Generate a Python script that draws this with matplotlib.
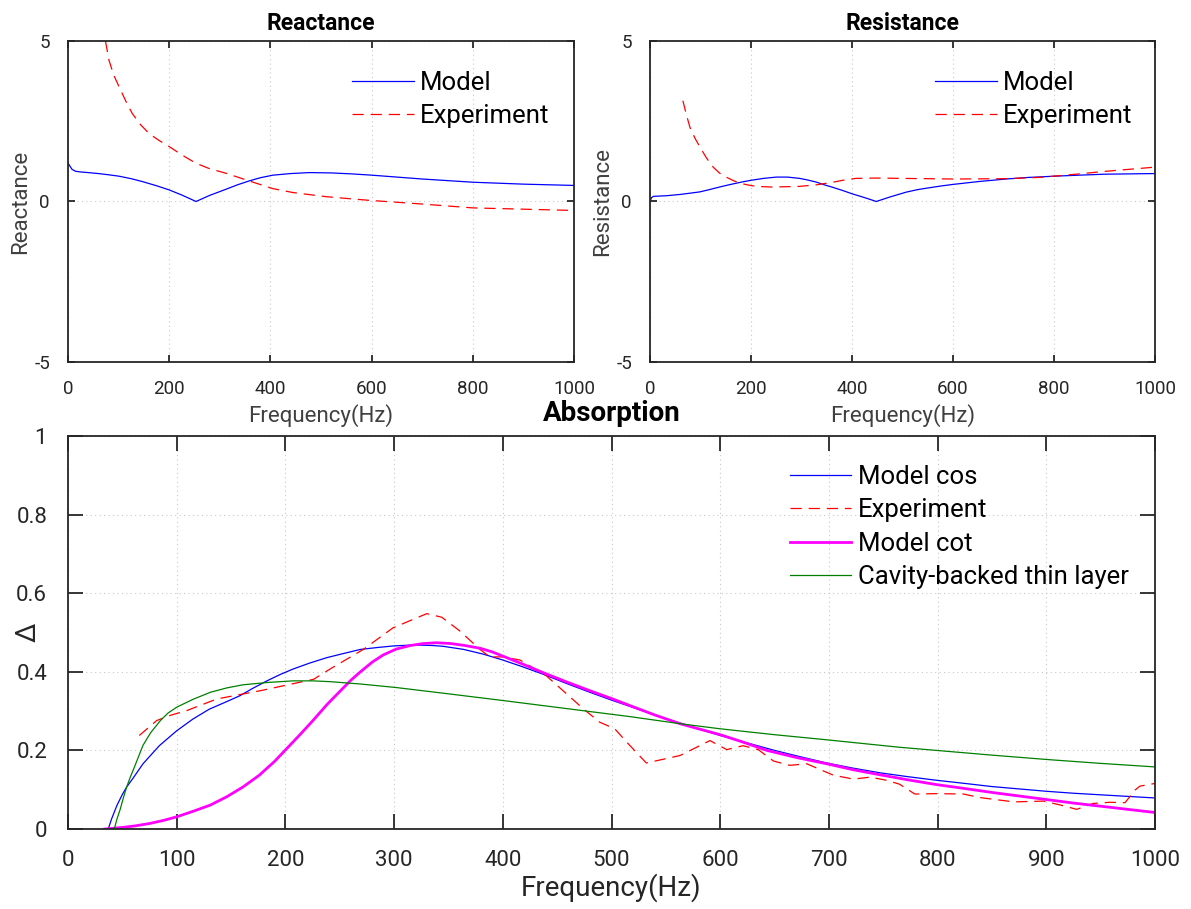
import numpy as np
import matplotlib
matplotlib.use("Agg")
import matplotlib.pyplot as plt

plt.rcParams['font.family'] = ['Roboto', 'DejaVu Sans']
plt.rcParams['axes.unicode_minus'] = False

# ---- Reactance ----
react_f_model = [0, 3, 8, 15, 25, 40, 60, 81, 100, 125, 147, 175, 200, 225, 253, 280, 312, 335, 358, 380,
                 405, 440, 477, 520, 560, 600, 650, 700, 750, 800, 850, 900, 950, 1000]
react_model = [1.2, 1.12, 1.0, 0.94, 0.92, 0.9, 0.87, 0.83, 0.79, 0.71, 0.62, 0.49, 0.36, 0.2, 0.0, 0.19, 0.38, 0.52, 0.64, 0.74,
               0.82, 0.87, 0.9, 0.89, 0.86, 0.82, 0.76, 0.7, 0.65, 0.6, 0.57, 0.54, 0.52, 0.5]
react_f_exp = [74, 81, 90, 101, 115, 127, 143, 160, 180, 200, 225, 253, 280, 312, 358, 405, 444, 474, 510, 576, 600, 655, 700, 800, 900, 1000]
react_exp = [5.0, 4.4, 3.95, 3.57, 3.1, 2.74, 2.4, 2.12, 1.9, 1.71, 1.45, 1.19, 1.02, 0.88, 0.64, 0.40, 0.28, 0.22, 0.15, 0.06, 0.03, -0.03, -0.08, -0.2, -0.24, -0.28]

# ---- Resistance ----
resist_f_model = [0, 3, 7, 20, 33, 60, 80, 99, 115, 130, 148, 165, 183, 200, 225, 250, 272, 296, 312, 330, 345, 362,
                  380, 400, 425, 448, 475, 507, 530, 550, 575, 599, 650, 705, 750, 804, 850, 900, 950, 1000]
resist_model = [0.0, 0.12, 0.16, 0.17, 0.18, 0.22, 0.26, 0.3, 0.36, 0.42, 0.49, 0.55, 0.61, 0.66, 0.72, 0.76, 0.76, 0.72, 0.67, 0.6, 0.52, 0.44,
                0.35, 0.24, 0.12, 0.0, 0.14, 0.29, 0.37, 0.42, 0.48, 0.53, 0.62, 0.7, 0.75, 0.79, 0.82, 0.85, 0.86, 0.87]
resist_f_exp = [65, 72, 79, 89, 99, 112, 125, 138, 152, 165, 178, 195, 211, 240, 296, 330, 362, 385, 408, 450, 494, 550, 600, 705, 771, 837, 902, 1000]
resist_exp = [3.14, 2.7, 2.31, 1.97, 1.69, 1.35, 1.07, 0.88, 0.75, 0.65, 0.57, 0.51, 0.47, 0.45, 0.47, 0.52, 0.6, 0.67, 0.72, 0.73, 0.72, 0.71, 0.7, 0.71, 0.75, 0.84, 0.94, 1.07]

# ---- Absorption ----
cos_f = [37, 40, 45, 50, 54, 60, 69, 84, 100, 115, 130, 145, 158, 170, 183, 195, 207, 222, 238, 254, 269, 285, 300, 315,
         324, 335, 345, 364, 382, 400, 418, 437, 458, 480, 500, 517, 540, 560, 580, 600, 625, 650, 675, 698, 722, 747,
         773, 799, 825, 850, 875, 900, 925, 950, 975, 1000]
cos_abs = [0, 0.025, 0.06, 0.088, 0.107, 0.13, 0.166, 0.212, 0.25, 0.28, 0.305, 0.323, 0.339, 0.358, 0.377, 0.393, 0.407, 0.422, 0.436, 0.447, 0.457, 0.462, 0.466, 0.468,
           0.468, 0.467, 0.465, 0.457, 0.445, 0.43, 0.413, 0.394, 0.371, 0.348, 0.328, 0.312, 0.29, 0.272, 0.255, 0.238, 0.219, 0.2, 0.183, 0.168, 0.155, 0.143,
           0.133, 0.124, 0.116, 0.108, 0.102, 0.096, 0.091, 0.087, 0.083, 0.079]

cot_f = [34, 50, 62, 75, 88, 100, 115, 131, 146, 161, 176, 190, 201, 212, 225, 238, 250, 260, 269, 280, 290, 302, 315, 327,
         339, 352, 365, 379, 390, 400, 418, 437, 458, 480, 500, 517, 540, 563, 580, 600, 620, 643, 670, 698, 722, 747, 773,
         799, 825, 850, 875, 900, 925, 950, 975, 1000]
cot_abs = [0, 0.004, 0.008, 0.014, 0.022, 0.031, 0.045, 0.061, 0.082, 0.107, 0.137, 0.172, 0.204, 0.236, 0.275, 0.316, 0.35, 0.378, 0.40, 0.425, 0.443, 0.458, 0.467, 0.472,
           0.474, 0.472, 0.467, 0.46, 0.451, 0.44, 0.42, 0.398, 0.375, 0.352, 0.332, 0.314, 0.29, 0.268, 0.255, 0.24, 0.222, 0.2, 0.182, 0.166, 0.151, 0.138, 0.125,
           0.113, 0.103, 0.093, 0.084, 0.075, 0.066, 0.058, 0.05, 0.042]

thin_f = [42.6, 45, 48, 51, 54, 57, 60, 64, 69, 76, 85, 92, 100, 115, 131, 146, 161, 184, 207, 225, 241, 269, 302, 350,
          400, 440, 477, 517, 563, 600, 650, 698, 765, 799, 850, 900, 950, 1000]
thin_abs = [0, 0.025, 0.05, 0.08, 0.107, 0.13, 0.15, 0.178, 0.213, 0.245, 0.276, 0.295, 0.31, 0.33, 0.348, 0.359, 0.367, 0.373, 0.377, 0.377, 0.375, 0.369, 0.36, 0.344,
            0.327, 0.313, 0.3, 0.286, 0.268, 0.255, 0.24, 0.227, 0.208, 0.2, 0.188, 0.177, 0.167, 0.158]

exp_f = [65.6, 81.6, 95, 109, 137, 177, 226, 241, 271.7, 299, 330, 343.8, 360, 379, 388, 400.5, 415.8, 440, 474, 489, 503, 514, 532, 563, 590.6, 606, 621, 635, 649, 664, 679.6, 704, 722.5, 738, 753, 765, 779, 799, 823.7, 839, 870, 897.6, 913, 928, 943, 958.6, 972.4, 981.6, 986, 1000]
exp_abs = [0.238, 0.276, 0.29, 0.301, 0.331, 0.352, 0.381, 0.407, 0.457, 0.512, 0.548, 0.539, 0.505, 0.457, 0.438, 0.438, 0.43, 0.39, 0.306, 0.272, 0.255, 0.221, 0.168, 0.187, 0.225, 0.202, 0.212, 0.202, 0.173, 0.162, 0.166, 0.137, 0.127, 0.132, 0.124, 0.114, 0.089, 0.09, 0.089, 0.08, 0.069, 0.071, 0.061, 0.05, 0.065, 0.068, 0.067, 0.099, 0.109, 0.116]

DARK = '#262626'
DASH = (9, 5.5)

fig = plt.figure(figsize=(11.91, 9.09), dpi=100)


def style_axes(ax, tick_fs, tick_len, pad):
    for s in ax.spines.values():
        s.set_color(DARK)
        s.set_linewidth(1.3)
    ax.tick_params(direction='in', top=True, right=True, length=tick_len, width=1.3,
                   colors=DARK, labelsize=tick_fs, pad=pad)
    ax.grid(True, linestyle=(0, (1, 3)), color='#c8c8c8', linewidth=0.8)
    ax.set_axisbelow(True)


def legend(ax, x0, y0):
    ax.legend(loc='upper left', bbox_to_anchor=(x0, y0), frameon=False,
              fontsize=18.5, handlelength=2.4, handletextpad=0.25, labelspacing=0.36,
              borderaxespad=0, borderpad=0)


def impedance_panel(rect, title, f_model, model, f_exp, exp, ylabel, lx):
    ax = fig.add_axes(rect)
    ax.plot(f_model, model, color='#0000ff', lw=0.9, label='Model')
    ax.plot(f_exp, exp, color='#ff0000', lw=0.9, dashes=DASH, label='Experiment')
    ax.set_xlim(0, 1000)
    ax.set_ylim(-5, 5)
    ax.set_xticks([0, 200, 400, 600, 800, 1000])
    ax.set_yticks([-5, 0, 5])
    style_axes(ax, 13.5, 5, 13)
    ax.set_title(title, fontsize=16.5, fontweight='bold', pad=8)
    ax.set_xlabel('Frequency(Hz)', fontsize=16, color='#404040', labelpad=4)
    ax.set_ylabel(ylabel, fontsize=16, color='#404040', labelpad=2)
    legend(ax, lx, 0.907)
    return ax


impedance_panel([0.0571, 0.6018, 0.4249, 0.3531], 'Reactance',
                react_f_model, react_model, react_f_exp, react_exp, 'Reactance', 0.561)
impedance_panel([0.5458, 0.6018, 0.4240, 0.3531], 'Resistance',
                resist_f_model, resist_model, resist_f_exp, resist_exp, 'Resistance', 0.564)

ax = fig.add_axes([0.0571, 0.0880, 0.9127, 0.4323])
ax.plot(cos_f, cos_abs, color='#0000ff', lw=0.9, label='Model cos')
ax.plot(exp_f, exp_abs, color='#ff0000', lw=0.9, dashes=DASH, label='Experiment')
ax.plot(cot_f, cot_abs, color='#ff00ff', lw=2.0, label='Model cot')
ax.plot(thin_f, thin_abs, color='#008000', lw=0.9, label='Cavity-backed thin layer')
ax.set_xlim(0, 1000)
ax.set_ylim(0, 1)
ax.set_xticks(np.arange(0, 1001, 100))
ax.set_yticks([0, 0.2, 0.4, 0.6, 0.8, 1])
ax.set_yticklabels(['0', '0.2', '0.4', '0.6', '0.8', '1'])
style_axes(ax, 16, 11, 15)
ax.set_title('Absorption', fontsize=20, fontweight='bold', pad=11)
ax.set_xlabel('Frequency(Hz)', fontsize=20, color=DARK, labelpad=2)
ax.set_ylabel('\u0394', fontsize=20, color=DARK)
ax.yaxis.set_label_coords(-0.024, 0.5)
legend(ax, 0.664, 0.926)

fig.savefig('out.png', dpi=100)
